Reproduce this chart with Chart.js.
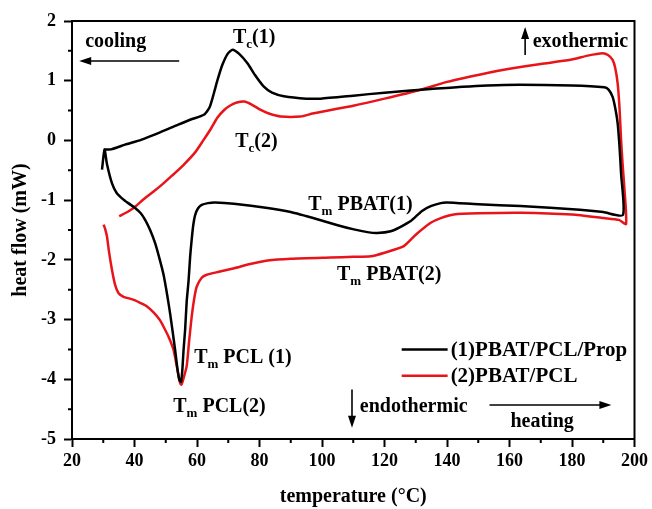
<!DOCTYPE html>
<html>
<head>
<meta charset="utf-8">
<script src="https://cdn.jsdelivr.net/npm/chart.js@4/dist/chart.umd.min.js"></script>
<style>
  body { margin: 0; background: #fff; }
</style>
</head>
<body>
<canvas id="myChart" width="652" height="509"></canvas>
<script>
// sample (1) PBAT/PCL/Prop : heating branch then cooling branch
let blackTemp = [29.6, 30.4, 31.2, 32.8, 34.3, 36.0, 38, 40.2, 42, 43.4, 45, 46.6, 48, 49.3, 50.5, 51.4, 52.2, 53.0,
  53.8, 54.4, 54.9, 55.3, 55.7, 56.2, 56.7, 57.3, 57.8, 58.3, 58.8, 59.4, 60.3, 61.5, 63.5, 65.8, 71.8, 82.6, 90,
  98.5, 105, 110.2, 115, 117.7, 122, 125, 128.4, 132, 134.8, 138, 140, 150, 163.5, 182.5, 190, 196.3,
  195.7, 195.2, 194.6, 193.8, 193.0, 191.7, 190.3, 180, 158.1, 145, 134.8, 120, 110, 99.6, 95, 87.8,
  84, 81.4, 78.5, 76.2, 73.5, 71.4, 69.8, 68, 66.5, 65.4, 64, 62.2, 58, 53.8, 48, 42.1, 37, 32.5, 30.4];
let blackFlow = [-0.49, -0.15, -0.40, -0.72, -0.88, -0.97, -1.05, -1.13, -1.22, -1.33, -1.50, -1.72, -1.98, -2.25, -2.6, -2.90, -3.2, -3.51,
  -3.85, -4.02, -4.04, -3.85, -3.51, -3.17, -2.70, -2.35, -1.95, -1.66, -1.42, -1.25, -1.14, -1.08, -1.05, -1.04, -1.06, -1.13, -1.2,
  -1.32, -1.42, -1.49, -1.54, -1.55, -1.52, -1.45, -1.35, -1.18, -1.10, -1.05, -1.04, -1.07, -1.10, -1.16, -1.20, -1.25,
  -0.55, -0.1, 0.29, 0.55, 0.73, 0.85, 0.89, 0.92, 0.93, 0.90, 0.86, 0.80, 0.75, 0.70, 0.70, 0.74,
  0.80, 0.90, 1.1, 1.29, 1.45, 1.52, 1.45, 1.25, 1.0, 0.79, 0.55, 0.43, 0.35, 0.26, 0.13, 0.01, -0.07, -0.15, -0.15];

// sample (2) PBAT/PCL
let redTemp = [30.1, 30.6, 31.2, 31.8, 32.8, 33.8, 34.9, 36.5, 38.5, 40.2, 41.8, 44, 46.1, 48, 49.3, 51, 52.5,
  53.6, 54.6, 55.0, 55.6, 56.7, 57.5, 58.3, 59.1, 59.9, 61.5, 63.1, 67, 71.9, 77, 82.6, 90, 102.8, 110, 115.6, 120,
  126.2, 130, 134.8, 138, 142.2, 150, 163.5, 180, 190.2, 195, 197.3,
  196.8, 196.2, 195.7, 195.2, 194.6, 193.8, 193.0, 191.5, 189.8, 185, 179.5, 170, 160, 152.9, 140, 131.6, 120,
  110, 102.8, 97, 93.2, 86.8, 83, 80.4, 77.5, 75.1, 72.5, 70.5, 68.7, 66.5, 64.5, 62, 59.4, 55.5, 52, 48.8, 46, 43,
  40.2, 38, 35.1];
let redFlow = [-1.41, -1.48, -1.61, -1.85, -2.17, -2.42, -2.56, -2.62, -2.65, -2.68, -2.72, -2.78, -2.88, -3.0, -3.12, -3.3, -3.51,
  -3.8, -4.06, -4.09, -4.0, -3.78, -3.35, -2.95, -2.65, -2.45, -2.30, -2.25, -2.20, -2.14, -2.07, -2.01, -1.98, -1.96, -1.95, -1.94, -1.88,
  -1.77, -1.58, -1.38, -1.30, -1.24, -1.22, -1.21, -1.24, -1.30, -1.33, -1.40,
  -0.83, -0.4, 0.01, 0.55, 0.96, 1.22, 1.35, 1.43, 1.46, 1.42, 1.35, 1.28, 1.20, 1.13, 0.98, 0.85, 0.70,
  0.58, 0.51, 0.45, 0.40, 0.40, 0.45, 0.51, 0.60, 0.65, 0.63, 0.58, 0.51, 0.38, 0.2, 0.0, -0.2, -0.42, -0.59, -0.74, -0.86, -0.98,
  -1.11, -1.19, -1.27];

let seriesNames = ["(1)PBAT/PCL/Prop", "(2)PBAT/PCL"];
let xTicks = [20, 40, 60, 80, 100, 120, 140, 160, 180, 200];
let yTicks = [-5, -4, -3, -2, -1, 0, 1, 2];
let xMinor = [30, 50, 70, 90, 110, 130, 150, 170, 190];
let yMinor = [-4.5, -3.5, -2.5, -1.5, -0.5, 0.5, 1.5];

// text notes: [temperature, heat flow, main, subscript, rest]
let notes = [
  [24.2, 1.65, "cooling", "", ""],
  [71.5, 1.72, "T", "c", "(1)"],
  [72.2, -0.02, "T", "c", "(2)"],
  [95.6, -1.08, "T", "m", " PBAT(1)"],
  [104.8, -2.25, "T", "m", " PBAT(2)"],
  [59.1, -3.64, "T", "m", " PCL (1)"],
  [52.4, -4.46, "T", "m", " PCL(2)"],
  [167.4, 1.65, "exothermic", "", ""],
  [112.1, -4.46, "endothermic", "", ""],
  [160.3, -4.71, "heating", "", ""]
];
// arrows: [x from, y from, x to, y to]
let arrows = [
  [54.3, 1.33, 22.3, 1.33],
  [165.0, 1.43, 165.0, 1.90],
  [109.6, -4.17, 109.6, -4.81],
  [153.6, -4.43, 192.6, -4.43]
];
// legend sample line (temperature span) and rows (heat flow)
let legendSpan = [125.5, 140.2];
let legendRows = [-3.50, -3.94];

function toPoints(xs, ys) {
  return xs.map((v, i) => ({ x: v, y: ys[i] }));
}

const serif = '"Liberation Serif", "Times New Roman", serif';

const decor = {
  id: "decor",
  afterDraw(chart) {
    const ctx = chart.ctx;
    const sx = chart.scales.x, sy = chart.scales.y, a = chart.chartArea;
    ctx.save();
    ctx.strokeStyle = "#000";
    ctx.fillStyle = "#000";
    ctx.lineWidth = 2;
    ctx.strokeRect(a.left, a.top, a.right - a.left, a.bottom - a.top);

    // minor ticks
    ctx.beginPath();
    xMinor.forEach((v) => {
      let px = sx.getPixelForValue(v);
      ctx.moveTo(px, a.bottom);
      ctx.lineTo(px, a.bottom + 4);
    });
    yMinor.forEach((v) => {
      let py = sy.getPixelForValue(v);
      ctx.moveTo(a.left, py);
      ctx.lineTo(a.left - 4, py);
    });
    ctx.stroke();

    // arrows
    ctx.lineWidth = 1.6;
    arrows.forEach((ar) => {
      let x1 = sx.getPixelForValue(ar[0]), y1 = sy.getPixelForValue(ar[1]);
      let x2 = sx.getPixelForValue(ar[2]), y2 = sy.getPixelForValue(ar[3]);
      let ang = Math.atan2(y2 - y1, x2 - x1);
      ctx.beginPath();
      ctx.moveTo(x1, y1);
      ctx.lineTo(x2 - 8 * Math.cos(ang), y2 - 8 * Math.sin(ang));
      ctx.stroke();
      ctx.beginPath();
      ctx.moveTo(x2, y2);
      ctx.lineTo(x2 - 12 * Math.cos(ang) + 4 * Math.sin(ang), y2 - 12 * Math.sin(ang) - 4 * Math.cos(ang));
      ctx.lineTo(x2 - 12 * Math.cos(ang) - 4 * Math.sin(ang), y2 - 12 * Math.sin(ang) + 4 * Math.cos(ang));
      ctx.closePath();
      ctx.fill();
    });

    // notes
    ctx.textBaseline = "middle";
    ctx.textAlign = "left";
    notes.forEach((n) => {
      let px = sx.getPixelForValue(n[0]), py = sy.getPixelForValue(n[1]);
      ctx.font = "bold 20px " + serif;
      ctx.fillText(n[2], px, py);
      px += ctx.measureText(n[2]).width;
      if (n[3]) {
        ctx.font = "bold 13px " + serif;
        ctx.fillText(n[3], px, py + 7);
        px += ctx.measureText(n[3]).width;
      }
      if (n[4]) {
        ctx.font = "bold 20px " + serif;
        ctx.fillText(n[4], px, py);
      }
    });

    // legend inside the plot
    chart.data.datasets.forEach((ds, i) => {
      let py = sy.getPixelForValue(legendRows[i]);
      let x1 = sx.getPixelForValue(legendSpan[0]), x2 = sx.getPixelForValue(legendSpan[1]);
      ctx.strokeStyle = ds.borderColor;
      ctx.lineWidth = 2.5;
      ctx.beginPath();
      ctx.moveTo(x1, py);
      ctx.lineTo(x2, py);
      ctx.stroke();
      ctx.font = "bold 21px " + serif;
      ctx.fillText(ds.label, x2 + 3, py + 1);
    });
    ctx.restore();
  }
};

var ctx = document.getElementById("myChart").getContext("2d");
var myChart = new Chart(ctx, {
  type: "scatter",
  data: {
    datasets: [
      {
        label: seriesNames[0],
        data: toPoints(blackTemp, blackFlow),
        borderColor: "#000000",
      },
      {
        label: seriesNames[1],
        data: toPoints(redTemp, redFlow),
        borderColor: "#e8141a",
      },
    ],
  },
  options: {
    responsive: false,
    animation: false,
    showLine: true,
    layout: { padding: { top: 21, right: 17, left: 0, bottom: 0 } },
    elements: {
      point: { radius: 0 },
      line: { borderWidth: 2.5, tension: 0.2, fill: false },
    },
    plugins: {
      legend: { display: false },
      tooltip: { enabled: false },
    },
    scales: {
      x: {
        type: "linear",
        min: 20,
        max: 200,
        afterFit: (s) => { s.height = 70; },
        afterBuildTicks: (s) => { s.ticks = xTicks.map((v) => ({ value: v })); },
        grid: { drawOnChartArea: false, tickLength: 8, tickWidth: 2, tickColor: "#000" },
        border: { color: "#000", width: 2 },
        ticks: { color: "#000", padding: 4, font: { family: serif, size: 18, weight: "bold" } },
        title: {
          display: true,
          text: "temperature (°C)",
          color: "#000",
          padding: { top: 0, bottom: 0 },
          font: { family: serif, size: 20, weight: "bold" },
        },
      },
      y: {
        type: "linear",
        min: -5,
        max: 2,
        afterFit: (s) => { s.width = 72; },
        afterBuildTicks: (s) => { s.ticks = yTicks.map((v) => ({ value: v })); },
        grid: { drawOnChartArea: false, tickLength: 8, tickWidth: 2, tickColor: "#000" },
        border: { color: "#000", width: 2 },
        ticks: { color: "#000", padding: 8, font: { family: serif, size: 18, weight: "bold" } },
        title: {
          display: true,
          text: "heat flow (mW)",
          color: "#000",
          padding: { top: 9, bottom: 0 },
          font: { family: serif, size: 20, weight: "bold" },
        },
      },
    },
  },
  plugins: [decor],
});
</script>
</body>
</html>
